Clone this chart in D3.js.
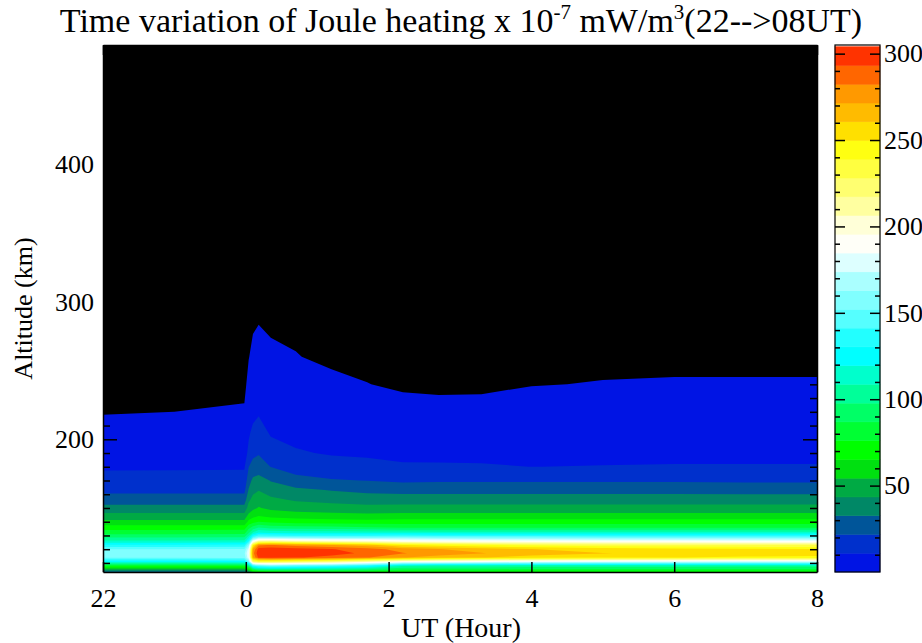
<!DOCTYPE html>
<html>
<head>
<meta charset="utf-8">
<script src="https://cdnjs.cloudflare.com/ajax/libs/d3/7.8.5/d3.min.js"></script>
<style>
body { margin: 0; background: #fff; }
svg text { font-family: "Liberation Serif", "DejaVu Serif", serif; fill: #000; }
</style>
</head>
<body>
<div id="chart"></div>
<script>
var width = 922;
var height = 643;

// UT hours counted from 00UT (22UT = -2)
var times = [-2, -1, -0.02, 0.04, 0.1, 0.18, 0.35, 0.7, 1.2, 1.7, 2.2, 2.7, 3.3, 4, 5, 6, 7, 8];
// altitude grid, km
var altitudes = [103, 105, 108, 111, 114, 117, 120, 123, 126, 129, 132, 136, 140, 145, 150, 156, 163, 170, 180, 190, 205, 220, 240, 260, 285, 320, 400, 490];

// Joule heating x 10^-7 mW/m^3, one altitude profile per time
var profiles = [
    [25, 45, 80, 125, 155, 160, 152, 132, 110, 95, 82, 70, 57, 46, 36, 27, 19, 14.5, 9.5, 6.5, 3.5, 0.6, 0.2, 0.1, 0, 0, 0, 0],      // 22UT
    [25, 45, 80, 125, 155, 160, 152, 132, 110, 95, 82, 70, 57, 46, 36, 27, 19, 14.5, 9.6, 6.6, 3.7, 1.0, 0.25, 0.1, 0, 0, 0, 0],     // 23UT
    [26, 46, 82, 127, 156, 161, 153, 133, 111, 96, 83, 70, 57, 46, 36, 27, 19, 14.5, 9.8, 6.8, 4.0, 1.3, 0.35, 0.15, 0, 0, 0, 0],
    [35, 60, 100, 155, 182, 186, 180, 160, 132, 112, 96, 82, 68, 56, 48, 41, 33.5, 28, 21.5, 13, 9.5, 4, 1.8, 0.9, 0.3, 0, 0, 0],
    [50, 85, 140, 225, 272, 278, 272, 245, 185, 140, 110, 90, 72, 60, 52, 47, 40, 35, 25, 19.5, 13, 8, 3.5, 1.6, 0.7, 0.1, 0, 0],
    [55, 95, 150, 235, 296, 302, 298, 280, 210, 150, 120, 96, 76, 63, 55, 50, 43, 37, 26, 21, 14, 10, 5, 2.5, 0.9, 0.2, 0, 0],
    [58, 98, 155, 235, 297, 303, 300, 283, 213, 150, 118, 92, 73, 60, 52, 46, 38, 32, 21.5, 14, 10, 6, 3, 1.5, 0.6, 0.1, 0, 0],
    [60, 98, 150, 230, 294, 301, 297, 278, 205, 148, 116, 90, 71, 58, 50, 42, 35, 25, 17, 11.8, 8, 5, 2.5, 1.1, 0.5, 0.1, 0, 0],
    [62, 96, 145, 222, 290, 297, 294, 272, 200, 147, 116, 89, 70, 57, 48, 40, 32, 22.5, 15, 10, 6.5, 3.5, 1.6, 0.5, 0.2, 0, 0, 0],
    [62, 92, 135, 210, 283, 291, 287, 265, 198, 148, 115, 87, 69, 56, 47, 38, 30, 21.5, 13.5, 9.5, 6, 2.6, 1.05, 0.4, 0.2, 0, 0, 0],
    [60, 85, 110, 195, 272, 283, 278, 250, 192, 150, 115, 84, 70, 57, 47, 38.5, 28.5, 20, 12, 8.5, 4.8, 2.0, 0.6, 0.3, 0.1, 0, 0, 0],
    [60, 84, 108, 190, 266, 277, 272, 245, 190, 148, 114, 84, 70, 57, 47, 38.5, 28.5, 20.5, 12, 8.3, 4.5, 1.8, 0.5, 0.2, 0.1, 0, 0, 0],
    [60, 84, 108, 186, 261, 272, 267, 240, 188, 147, 114, 84, 70, 57, 47, 38.5, 28.5, 20.5, 11.8, 8.2, 4.6, 1.9, 0.5, 0.2, 0.1, 0, 0, 0],
    [58, 82, 106, 183, 256, 266, 261, 236, 187, 147, 114, 84, 70, 57, 47, 38.5, 28.5, 20.5, 10.8, 7.8, 4.8, 2.4, 0.9, 0.4, 0.1, 0, 0, 0],
    [58, 82, 105, 180, 252, 261, 256, 232, 186, 146, 113, 84, 70, 57, 47, 38.5, 28.5, 20.5, 11.2, 8, 5, 2.6, 1.1, 0.45, 0.1, 0, 0, 0],
    [58, 82, 105, 178, 250, 258, 254, 230, 186, 146, 113, 84, 70, 57, 47, 38.5, 28.5, 20.5, 11.5, 8.2, 5.1, 2.7, 1.2, 0.45, 0.1, 0, 0, 0],
    [58, 82, 104, 177, 248, 256, 252, 229, 185, 146, 113, 84, 70, 57, 47, 38.5, 28, 20, 11.5, 8.2, 5.1, 2.7, 1.2, 0.45, 0.1, 0, 0, 0],
    [58, 82, 104, 176, 247, 255, 251, 228, 185, 146, 113, 84, 70, 57, 47, 38.5, 28, 20, 11.5, 8.2, 5.1, 2.7, 1.2, 0.45, 0.1, 0, 0, 0]     // 08UT
];

var xTicks = [-2, 0, 2, 4, 6, 8];
var xTickLabels = ["22", "0", "2", "4", "6", "8"];
var yTicks = [200, 300, 400];
var cbTicks = [50, 100, 150, 200, 250, 300];

// 28 contour bands, bottom to top
var bandColors = ["#0014e4", "#0030cc", "#005599", "#008866", "#00aa44", "#00e010", "#00ff00",
    "#00ff33", "#00ff66", "#00ff99", "#00ffcc", "#00ffff", "#22ffff", "#55ffff", "#80ffff",
    "#aaffff", "#ddffff", "#fffff8", "#ffffd8", "#ffffa0", "#ffff70", "#ffff40", "#ffff11",
    "#ffe000", "#ffbb00", "#ff9900", "#ff6600", "#ff3300"];
var levelStep = 304 / 28;
var levels = bandColors.map(function (c, k) { return k * levelStep; });
// lowest band starts just above zero, the rest of the plot stays black
var thresholds = levels.map(function (l, k) { return k === 0 ? 1 : l; });

var svg = d3.select("#chart").append("svg")
    .attr("width", width)
    .attr("height", height);

var plotLeft = 103, plotRight = 817, plotTop = 45, plotBottom = 572;

var x = d3.scaleLinear().domain([-2, 8]).range([plotLeft, plotRight]);
var y = d3.scaleLinear().domain([103.4, 487]).range([plotBottom, plotTop]);

// grid index -> data value
var tIdx = d3.scaleLinear().domain(d3.range(times.length)).range(times).clamp(true);
var aIdx = d3.scaleLinear().domain(d3.range(altitudes.length)).range(altitudes).clamp(true);

var nx = times.length, ny = altitudes.length;
var grid = new Array(nx * ny);
for (var j = 0; j < ny; j++) {
    for (var i = 0; i < nx; i++) {
        grid[j * nx + i] = profiles[i][j];
    }
}

var contours = d3.contours()
    .size([nx, ny])
    .thresholds(thresholds)(grid);

var path = d3.geoPath(d3.geoTransform({
    point: function (px, py) {
        this.stream.point(x(tIdx(px - 0.5)), y(aIdx(py - 0.5)));
    }
}));

svg.append("clipPath").attr("id", "plotclip")
    .append("rect")
    .attr("x", plotLeft).attr("y", plotTop)
    .attr("width", plotRight - plotLeft).attr("height", plotBottom - plotTop);

var plot = svg.append("g").attr("clip-path", "url(#plotclip)");

plot.append("rect")
    .attr("x", plotLeft).attr("y", plotTop)
    .attr("width", plotRight - plotLeft).attr("height", plotBottom - plotTop)
    .attr("fill", "#000");

plot.selectAll("path")
    .data(contours)
    .enter().append("path")
    .attr("d", path)
    .attr("fill", function (d, i) { return bandColors[i]; });

// axes, ticks point inward
var minorAlt = d3.range(110, 490, 10).filter(function (v) { return v % 100 !== 0; });

svg.append("g")
    .attr("transform", "translate(" + plotLeft + ",0)")
    .call(d3.axisLeft(y).tickValues(yTicks).tickSizeInner(-14).tickSizeOuter(0).tickPadding(9))
    .call(function (g) { g.selectAll("text").attr("font-size", 26); });

svg.append("g")
    .attr("transform", "translate(" + plotLeft + ",0)")
    .call(d3.axisLeft(y).tickValues(minorAlt).tickSizeInner(-7).tickSizeOuter(0).tickFormat(""))
    .call(function (g) { g.select(".domain").remove(); });

svg.append("g")
    .attr("transform", "translate(" + plotRight + ",0)")
    .call(d3.axisRight(y).tickValues(yTicks).tickSizeInner(-14).tickSizeOuter(0).tickFormat(""));

svg.append("g")
    .attr("transform", "translate(" + plotRight + ",0)")
    .call(d3.axisRight(y).tickValues(minorAlt).tickSizeInner(-7).tickSizeOuter(0).tickFormat(""))
    .call(function (g) { g.select(".domain").remove(); });

svg.append("g")
    .attr("transform", "translate(0," + plotBottom + ")")
    .call(d3.axisBottom(x).tickValues(xTicks).tickSizeInner(-10).tickSizeOuter(0).tickPadding(17)
        .tickFormat(function (d, i) { return xTickLabels[i]; }))
    .call(function (g) { g.selectAll("text").attr("font-size", 26); });

svg.append("g")
    .attr("transform", "translate(0," + plotTop + ")")
    .call(d3.axisTop(x).tickValues(xTicks).tickSizeInner(-10).tickSizeOuter(0).tickFormat(""));

svg.selectAll(".domain, .tick line").attr("stroke", "#000").attr("stroke-width", 1.5);
svg.selectAll(".tick text").attr("font-family", "Liberation Serif, DejaVu Serif, serif");

// titles
var title = svg.append("text")
    .attr("x", 461)
    .attr("y", 32)
    .attr("text-anchor", "middle")
    .attr("font-size", 34);
title.append("tspan").text("Time variation of Joule heating x 10");
title.append("tspan").attr("font-size", 21).attr("dy", -13).text("-7");
title.append("tspan").attr("dy", 13).text(" mW/m");
title.append("tspan").attr("font-size", 21).attr("dy", -13).text("3");
title.append("tspan").attr("dy", 13).text("(22-->08UT)");

svg.append("text")
    .attr("x", 461)
    .attr("y", 637)
    .attr("text-anchor", "middle")
    .attr("font-size", 28)
    .text("UT (Hour)");

svg.append("text")
    .attr("transform", "translate(32," + ((plotTop + plotBottom) / 2) + ") rotate(-90)")
    .attr("text-anchor", "middle")
    .attr("font-size", 26)
    .text("Altitude (km)");

// colour bar
var cbLeft = 835, cbRight = 880;
var cb = d3.scaleLinear().domain([0, 305]).range([572, 45]);

svg.append("g").selectAll("rect")
    .data(levels)
    .enter().append("rect")
    .attr("x", cbLeft)
    .attr("width", cbRight - cbLeft)
    .attr("y", function (d) { return cb(d + levelStep); })
    .attr("height", function (d) { return cb(d) - cb(d + levelStep); })
    .attr("fill", function (d, i) { return bandColors[i]; })
    .attr("stroke", function (d, i) { return bandColors[i]; })
    .attr("stroke-width", 0.5);

var cbMinor = d3.range(10, 305, 10).filter(function (v) { return v % 50 !== 0; });

svg.append("g")
    .attr("transform", "translate(" + cbLeft + ",0)")
    .call(d3.axisLeft(cb).tickValues(cbTicks).tickSizeInner(-10).tickSizeOuter(0).tickFormat(""))
    .call(function (g) { g.select(".domain").remove(); });
svg.append("g")
    .attr("transform", "translate(" + cbLeft + ",0)")
    .call(d3.axisLeft(cb).tickValues(cbMinor).tickSizeInner(-5).tickSizeOuter(0).tickFormat(""))
    .call(function (g) { g.select(".domain").remove(); });
svg.append("g")
    .attr("transform", "translate(" + cbRight + ",0)")
    .call(d3.axisRight(cb).tickValues(cbTicks).tickSizeInner(-10).tickSizeOuter(0).tickPadding(4))
    .call(function (g) {
        g.select(".domain").remove();
        g.selectAll("text").attr("font-size", 26).attr("font-family", "Liberation Serif, DejaVu Serif, serif");
    });
svg.append("g")
    .attr("transform", "translate(" + cbRight + ",0)")
    .call(d3.axisRight(cb).tickValues(cbMinor).tickSizeInner(-5).tickSizeOuter(0).tickFormat(""))
    .call(function (g) { g.select(".domain").remove(); });

svg.append("rect")
    .attr("x", cbLeft).attr("y", 45)
    .attr("width", cbRight - cbLeft).attr("height", 572 - 45)
    .attr("fill", "none")
    .attr("stroke", "#000")
    .attr("stroke-width", 1.2);

svg.selectAll(".tick line").attr("stroke", "#000").attr("stroke-width", 1.5);
</script>
</body>
</html>
